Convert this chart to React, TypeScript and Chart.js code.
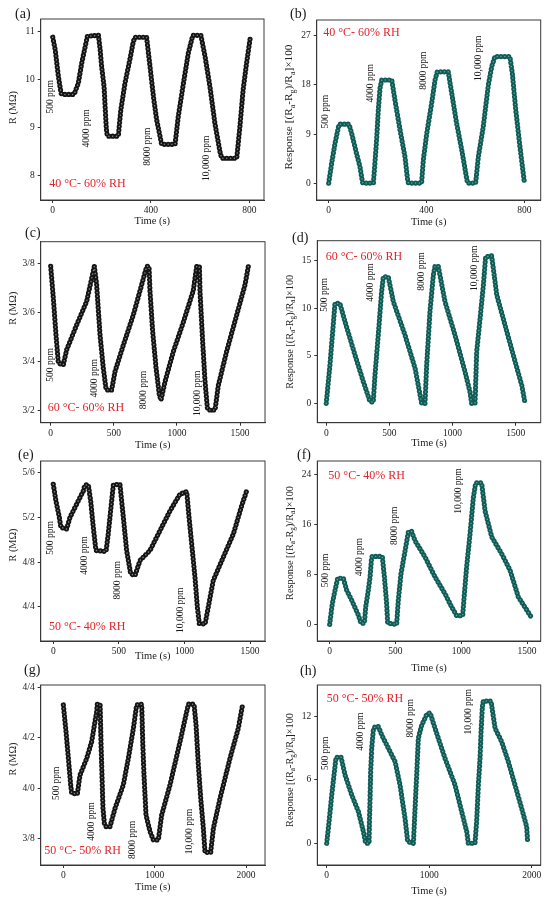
import { useEffect, useRef } from "react";
import { Chart, registerables } from "chart.js";

Chart.register(...registerables);

const SERIF = '"Liberation Serif", "Times New Roman", serif';
const RED = "#e3242b";

// (a) 40 °C - 60% RH, resistance (MΩ)
const aTime = [0, 10, 23, 34, 40, 87, 104, 118, 141, 186, 193, 199, 209, 214, 218, 222, 267, 277, 294, 315, 328, 335, 382, 396, 410, 423, 437, 443, 498, 511, 532, 552, 570, 603, 620, 640, 660, 681, 688, 749, 762, 775, 789, 805];
const aR = [10.88, 10.62, 10.06, 9.71, 9.69, 9.69, 9.92, 10.34, 10.9, 10.92, 10.62, 10.27, 9.85, 9.36, 8.98, 8.82, 8.82, 9.36, 9.92, 10.44, 10.79, 10.88, 10.88, 10.27, 9.64, 9.16, 8.81, 8.65, 8.65, 9.23, 9.92, 10.55, 10.92, 10.92, 10.48, 9.85, 9.09, 8.49, 8.36, 8.36, 9.02, 9.78, 10.34, 10.9];

// (b) 40 °C - 60% RH, response
const bTime = [0, 12, 26, 40, 44, 83, 94, 114, 128, 138, 140, 183, 189, 196, 203, 210, 217, 258, 271, 292, 312, 323, 326, 380, 387, 401, 421, 435, 444, 489, 503, 523, 544, 564, 568, 601, 612, 632, 653, 667, 680, 741, 751, 765, 782, 800];
const bResp = [0, 3.6, 7.3, 10.3, 10.8, 10.8, 9.1, 5.4, 3.0, 0.2, 0, 0, 3.6, 7.9, 13.4, 17.4, 18.9, 18.9, 15.2, 9.7, 4.8, 0.5, 0, 0, 4.2, 9.1, 14.6, 18.9, 20.4, 20.4, 16.5, 11.0, 6.1, 0.9, 0, 0, 4.8, 10.3, 18.0, 21.4, 23.2, 23.2, 20.1, 13.4, 6.7, 0.2];

// (c) 60 °C - 60% RH, resistance
const cTime = [0, 21, 42, 61, 100, 127, 206, 285, 346, 364, 391, 417, 438, 444, 483, 510, 576, 655, 721, 761, 779, 787, 808, 835, 861, 874, 906, 972, 1051, 1130, 1157, 1178, 1183, 1204, 1223, 1241, 1249, 1302, 1328, 1394, 1474, 1540, 1566];
const cR = [3.789, 3.659, 3.508, 3.392, 3.385, 3.447, 3.549, 3.645, 3.789, 3.714, 3.508, 3.371, 3.289, 3.282, 3.282, 3.358, 3.467, 3.59, 3.714, 3.789, 3.789, 3.686, 3.522, 3.371, 3.262, 3.241, 3.316, 3.44, 3.56, 3.69, 3.789, 3.789, 3.686, 3.481, 3.316, 3.21, 3.2, 3.2, 3.3, 3.44, 3.59, 3.714, 3.789];

// (d) 60 °C - 60% RH, response
const dTime = [0, 29, 55, 69, 108, 148, 227, 293, 346, 372, 386, 412, 438, 452, 491, 531, 623, 703, 755, 782, 795, 821, 848, 861, 887, 940, 1019, 1099, 1138, 1151, 1178, 1191, 1218, 1244, 1262, 1310, 1350, 1416, 1495, 1548, 1574];
const dResp = [0, 4.0, 8.2, 10.5, 10.5, 8.6, 5.1, 2.3, 0.2, 0.1, 3.0, 7.2, 11.7, 13.3, 13.3, 10.7, 7.2, 3.7, 0, 0, 4.0, 9.6, 13.5, 14.4, 14.4, 10.7, 7.2, 3.3, 1.2, 0, 0, 5.4, 8.9, 12.4, 15.4, 15.5, 11.4, 8.2, 4.4, 1.9, 0];

// (e) 50 °C - 40% RH, resistance
const eTime = [0, 20, 46, 58, 102, 127, 178, 229, 241, 267, 285, 305, 325, 402, 419, 445, 458, 508, 534, 559, 590, 623, 661, 737, 813, 890, 966, 1017, 1035, 1055, 1080, 1098, 1113, 1157, 1182, 1220, 1296, 1373, 1436, 1474];
const eR = [5.496, 5.348, 5.2, 5.111, 5.096, 5.2, 5.319, 5.437, 5.49, 5.49, 5.348, 5.111, 4.904, 4.895, 5.052, 5.348, 5.49, 5.496, 5.2, 4.904, 4.696, 4.681, 4.815, 4.904, 5.081, 5.259, 5.407, 5.431, 5.2, 4.963, 4.667, 4.4, 4.252, 4.246, 4.4, 4.637, 4.844, 5.052, 5.304, 5.437];

// (f) 50 °C - 40% RH, response
const fTime = [0, 20, 41, 61, 104, 129, 167, 218, 238, 264, 274, 294, 307, 319, 324, 400, 416, 433, 441, 509, 522, 542, 573, 598, 623, 649, 725, 801, 877, 927, 965, 1011, 1024, 1041, 1067, 1092, 1110, 1155, 1181, 1232, 1308, 1371, 1434, 1498, 1531];
const fResp = [0, 3.3, 5.5, 7.4, 7.4, 5.5, 3.9, 1.5, 0.2, 0.2, 2.8, 5.5, 7.6, 10.8, 10.9, 10.9, 7.6, 3.3, 0.2, 0, 3.9, 8.1, 11.8, 14.8, 14.9, 13.4, 10.8, 7.6, 4.9, 2.8, 1.4, 1.4, 4.9, 9.2, 14.5, 20.3, 22.7, 22.7, 18.2, 14.0, 11.3, 8.7, 4.4, 2.3, 1.2];

// (g) 50 °C - 50% RH, resistance
const gTime = [0, 29, 55, 80, 91, 153, 183, 256, 310, 365, 372, 402, 412, 423, 434, 449, 467, 511, 566, 657, 712, 767, 803, 858, 869, 883, 905, 949, 986, 1040, 1077, 1168, 1278, 1351, 1369, 1431, 1453, 1478, 1504, 1533, 1551, 1613, 1643, 1716, 1825, 1916, 1964];
const gR = [4.33, 4.225, 4.119, 4.014, 3.981, 3.978, 4.053, 4.119, 4.185, 4.304, 4.333, 4.333, 4.185, 4.053, 3.921, 3.862, 3.849, 3.849, 3.921, 4.014, 4.119, 4.238, 4.33, 4.333, 4.185, 4.053, 3.895, 3.829, 3.796, 3.796, 3.895, 4.014, 4.185, 4.304, 4.333, 4.333, 4.251, 4.093, 3.961, 3.842, 3.747, 3.746, 3.842, 3.961, 4.119, 4.238, 4.333];

// (h) 50 °C - 50% RH, response
const hTime = [0, 23, 49, 75, 91, 140, 179, 244, 309, 358, 380, 413, 416, 423, 429, 439, 455, 472, 504, 537, 602, 667, 715, 764, 790, 846, 862, 878, 894, 927, 976, 1008, 1057, 1154, 1252, 1317, 1366, 1382, 1447, 1463, 1480, 1496, 1506, 1519, 1528, 1603, 1643, 1707, 1772, 1837, 1902, 1951, 1961];
const hResp = [0, 2.05, 4.58, 6.79, 8.15, 8.15, 6.47, 4.58, 3.0, 1.1, 0, 0, 1.74, 4.26, 6.79, 9.0, 10.74, 11.05, 11.05, 10.26, 9.0, 7.74, 5.53, 2.37, 0.16, 0, 3.32, 6.47, 9.95, 11.2, 12.2, 12.38, 10.9, 8.05, 5.53, 3.0, 1.1, 0, 0, 2.05, 5.53, 8.05, 10.58, 12.95, 13.48, 13.48, 10.9, 9.63, 7.74, 5.53, 3.32, 1.58, 0];

// tick labels
const x800Ticks = [0, 400, 800];
const x1500Ticks = [0, 500, 1000, 1500];
const x2000Ticks = [0, 1000, 2000];
const aYTicks = [8, 9, 10, 11];
const bYTicks = [0, 9, 18, 27];
const cYTicks = [3.2, 3.4, 3.6, 3.8];
const dYTicks = [0, 5, 10, 15];
const eYTicks = [4.4, 4.8, 5.2, 5.6];
const fYTicks = [0, 8, 16, 24];
const gYTicks = [3.8, 4.0, 4.2, 4.4];
const hYTicks = [0, 6, 12];

const ppmLabels = ["500 ppm", "4000 ppm", "8000 ppm", "10,000 ppm"];
const rTitle: [string, boolean][] = [["R (MΩ)", false]];
const respTitle: [string, boolean][] = [
  ["Response [(R", false], ["a", true], ["-R", false], ["g", true],
  [")/R", false], ["a", true], ["]×100", false],
];

type Panel = {
  letter: string;
  time: number[];
  values: number[];
  xTicks: number[];
  yTicks: number[];
  slash: boolean;
  x: [number, number];
  y: [number, number];
  resp: boolean;
  cond: string;
  condAt: [number, number];
  ppmAt: [number, number][];
  cell: [number, number, number, number];
  box: [number, number, number, number];
  letterAt: [number, number];
  xTitleDy: number;
  yTitleDy: number;
  yTitleSize: number;
};

// canvases overlap a little (they are transparent) so the x titles are not cut
const panels: Panel[] = [
  {
    letter: "(a)", time: aTime, values: aR, xTicks: x800Ticks, yTicks: aYTicks, slash: false,
    x: [-49, 860], y: [7.49, 11.26], resp: false, cond: "40 °C- 60% RH", condAt: [-14, 7.82],
    ppmAt: [[-11, 9.64], [136, 8.98], [386, 8.6], [626, 8.36]],
    cell: [0, 0, 275, 240], box: [40.7, 19, 264, 200], letterAt: [15, 14], xTitleDy: 21, yTitleDy: -2, yTitleSize: 10.3,
  },
  {
    letter: "(b)", time: bTime, values: bResp, xTicks: x800Ticks, yTicks: bYTicks, slash: false,
    x: [-49, 867], y: [-3.1, 29.9], resp: true, cond: "40 °C- 60% RH", condAt: [-22, 27.5],
    ppmAt: [[-15, 13.1], [169, 18.3], [387, 20.6], [612, 22.9]],
    cell: [275, 0, 275, 240], box: [316.7, 20, 540.7, 200], letterAt: [290, 14], xTitleDy: 22, yTitleDy: -3, yTitleSize: 11.3,
  },
  {
    letter: "(c)", time: cTime, values: cR, xTicks: x1500Ticks, yTicks: cYTicks, slash: true,
    x: [-79, 1698], y: [3.148, 3.89], resp: false, cond: "60 °C- 60% RH", condAt: [-24, 3.207],
    ppmAt: [[-5, 3.385], [351, 3.33], [734, 3.282], [1162, 3.268]],
    cell: [0, 225, 275, 240], box: [40.7, 241.7, 265, 422.7], letterAt: [25, 233], xTitleDy: 23, yTitleDy: -24, yTitleSize: 10.3,
  },
  {
    letter: "(d)", time: dTime, values: dResp, xTicks: x1500Ticks, yTicks: dYTicks, slash: false,
    x: [-71, 1698], y: [-2.04, 17.1], resp: true, cond: "60 °C- 60% RH", condAt: [-5, 15.4],
    ppmAt: [[-11, 11.4], [351, 12.7], [755, 13.85], [1170, 14.2]],
    cell: [275, 225, 275, 240], box: [317.3, 240.7, 540.7, 422.7], letterAt: [292, 238], xTitleDy: 21, yTitleDy: 0, yTitleSize: 10.3,
  },
  {
    letter: "(e)", time: eTime, values: eR, xTicks: x1500Ticks, yTicks: eYTicks, slash: true,
    x: [-96, 1614], y: [4.095, 5.704], resp: false, cond: "50 °C- 40% RH", condAt: [-33, 4.222],
    ppmAt: [[-20, 5.016], [236, 4.859], [491, 4.637], [971, 4.37]],
    cell: [0, 450, 275, 240], box: [40.7, 461, 265, 641], letterAt: [18, 455], xTitleDy: 15, yTitleDy: -6, yTitleSize: 10.3,
  },
  {
    letter: "(f)", time: fTime, values: fResp, xTicks: x1500Ticks, yTicks: fYTicks, slash: false,
    x: [-94, 1604], y: [-2.66, 26.2], resp: true, cond: "50 °C- 40% RH", condAt: [-10, 23.8],
    ppmAt: [[-30, 8.66], [226, 10.78], [492, 15.8], [983, 21.4]],
    cell: [275, 450, 275, 240], box: [317.3, 461, 540.7, 641], letterAt: [297, 455], xTitleDy: 27, yTitleDy: -8, yTitleSize: 10.3,
  },
  {
    letter: "(g)", time: gTime, values: gR, xTicks: x2000Ticks, yTicks: gYTicks, slash: true,
    x: [-248, 2208], y: [3.697, 4.409], resp: false, cond: "50 °C- 50% RH", condAt: [-208, 3.753],
    ppmAt: [[-80, 4.02], [310, 3.869], [759, 3.796], [1380, 3.829]],
    cell: [0, 675, 275, 227], box: [40.7, 685, 265, 865], letterAt: [24, 670], xTitleDy: 22, yTitleDy: -16, yTitleSize: 10.3,
  },
  {
    letter: "(h)", time: hTime, values: hResp, xTicks: x2000Ticks, yTicks: hYTicks, slash: false,
    x: [-92, 2088], y: [-2.06, 15.0], resp: true, cond: "50 °C- 50% RH", condAt: [0, 13.67],
    ppmAt: [[-16, 8.53], [325, 10.58], [813, 11.84], [1382, 12.47]],
    cell: [275, 675, 275, 227], box: [317.3, 685, 540.7, 865], letterAt: [300, 671], xTitleDy: 26, yTitleDy: -5, yTitleSize: 10.3,
  },
];

function PanelChart({ p }: { p: Panel }) {
  const canvasRef = useRef<HTMLCanvasElement | null>(null);

  useEffect(() => {
    if (!canvasRef.current) return;
    const [cx, cy, cw, ch] = p.cell;
    const [bl, bt, br, bb] = p.box;
    const dark = p.resp ? "#0f5c57" : "#141414";
    const light = p.resp ? "#6aa59d" : "#8a8a8a";
    const points = p.time.map((t, i) => ({ x: t, y: p.values[i] }));
    const title = p.resp ? respTitle : rTitle;

    const decor = {
      id: "decor",
      afterDraw(chart: any) {
        const { ctx, chartArea: ca, scales } = chart;
        ctx.save();
        ctx.strokeStyle = "#3a3a3a";
        ctx.lineWidth = 1;
        ctx.strokeRect(ca.left, ca.top, ca.right - ca.left, ca.bottom - ca.top);

        ctx.fillStyle = "#1a1a1a";
        ctx.font = `9.5px ${SERIF}`;
        ctx.textAlign = "center";
        ctx.textBaseline = "middle";
        p.ppmAt.forEach(([t, v], i) => {
          ctx.save();
          ctx.translate(scales.x.getPixelForValue(t), scales.y.getPixelForValue(v));
          ctx.rotate(-Math.PI / 2);
          ctx.fillText(ppmLabels[i], 0, 0);
          ctx.restore();
        });

        ctx.fillStyle = RED;
        ctx.font = `12px ${SERIF}`;
        ctx.textAlign = "left";
        ctx.fillText(p.cond, scales.x.getPixelForValue(p.condAt[0]), scales.y.getPixelForValue(p.condAt[1]));

        ctx.fillStyle = "#222";
        ctx.font = `10.5px ${SERIF}`;
        ctx.textAlign = "center";
        ctx.fillText("Time (s)", (ca.left + ca.right) / 2, ca.bottom + p.xTitleDy);

        // y title, with subscripts
        const big = `${p.yTitleSize}px ${SERIF}`;
        const small = `${p.yTitleSize * 0.7}px ${SERIF}`;
        let total = 0;
        const widths = title.map(([s, sub]) => {
          ctx.font = sub ? small : big;
          const w = ctx.measureText(s).width;
          total += w;
          return w;
        });
        ctx.save();
        ctx.translate(ca.left - 27.2, (ca.top + ca.bottom) / 2 + p.yTitleDy);
        ctx.rotate(-Math.PI / 2);
        ctx.textAlign = "left";
        let pos = -total / 2;
        title.forEach(([s, sub], i) => {
          ctx.font = sub ? small : big;
          ctx.fillText(s, pos, sub ? p.yTitleSize * 0.3 : 0);
          pos += widths[i];
        });
        ctx.restore();
        ctx.restore();
      },
    };

    const tickFont = { family: SERIF, size: 9.5 };
    // dataset 0 is painted last, so the light core sits on top of the dark ring
    const chart = new Chart(canvasRef.current, {
      type: "line",
      data: {
        datasets: [
          {
            data: points,
            borderColor: light,
            borderWidth: 1.5,
            borderDash: [0.01, 3.8],
            borderCapStyle: "round",
            borderJoinStyle: "round",
            pointRadius: 0,
            tension: 0,
          },
          {
            data: points,
            borderColor: dark,
            borderWidth: 5.2,
            borderDash: [0.01, 3.8],
            borderCapStyle: "round",
            borderJoinStyle: "round",
            pointRadius: 0,
            tension: 0,
          },
        ],
      },
      options: {
        responsive: true,
        maintainAspectRatio: false,
        animation: false,
        layout: { padding: { left: 0, top: bt - cy, right: cx + cw - br, bottom: 0 } },
        plugins: { legend: { display: false }, tooltip: { enabled: false } },
        scales: {
          x: {
            type: "linear",
            min: p.x[0],
            max: p.x[1],
            afterBuildTicks: (s: any) => {
              s.ticks = p.xTicks.map((v) => ({ value: v }));
            },
            afterFit: (s: any) => {
              s.height = cy + ch - bb;
            },
            ticks: { font: tickFont, color: "#222", padding: 2, maxRotation: 0, autoSkip: false, callback: (v: any) => String(v) },
            grid: { display: true, drawOnChartArea: false, drawTicks: true, tickLength: 3, color: "#333" },
            border: { display: true, color: "#333" },
          },
          y: {
            type: "linear",
            min: p.y[0],
            max: p.y[1],
            afterBuildTicks: (s: any) => {
              s.ticks = p.yTicks.map((v) => ({ value: v }));
            },
            afterFit: (s: any) => {
              s.width = bl - cx;
            },
            ticks: {
              font: tickFont,
              color: "#222",
              padding: 3,
              autoSkip: false,
              callback: (v: any) => (p.slash ? Number(v).toFixed(1).replace(".", "/") : String(v)),
            },
            grid: { display: true, drawOnChartArea: false, drawTicks: true, tickLength: 3, color: "#333" },
            border: { display: true, color: "#333" },
          },
        },
      },
      plugins: [decor],
    } as any);

    return () => chart.destroy();
  }, [p]);

  return (
    <div style={{ position: "absolute", left: p.cell[0], top: p.cell[1], width: p.cell[2], height: p.cell[3] }}>
      <canvas ref={canvasRef} />
    </div>
  );
}

export default function App() {
  return (
    <div style={{ position: "absolute", left: 0, top: 0, width: 550, height: 902, background: "#fff", overflow: "hidden" }}>
      {panels.map((p) => (
        <PanelChart key={p.letter} p={p} />
      ))}
      {panels.map((p) => (
        <span
          key={"l" + p.letter}
          style={{
            position: "absolute",
            left: p.letterAt[0],
            top: p.letterAt[1] - 9,
            fontFamily: SERIF,
            fontSize: 14,
            lineHeight: "18px",
            color: "#1a1a1a",
          }}
        >
          {p.letter}
        </span>
      ))}
    </div>
  );
}
